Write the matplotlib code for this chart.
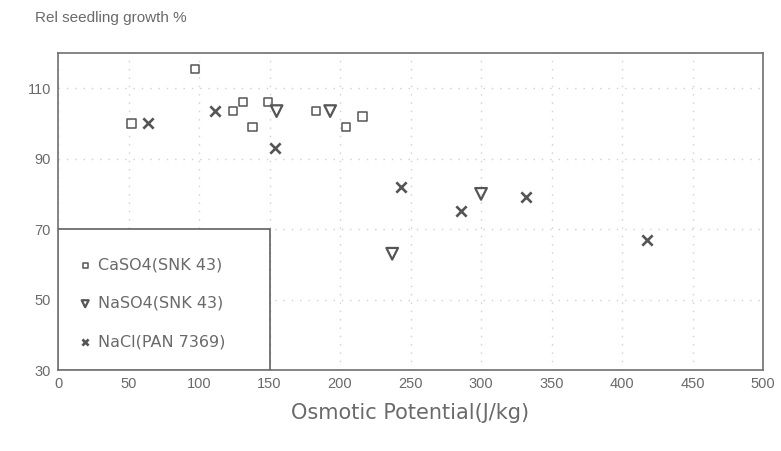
import matplotlib.pyplot as plt
from matplotlib.patches import Rectangle

plt.rcParams['font.family'] = ['Liberation Sans', 'DejaVu Sans']

# CaSO4 (SNK 43)
caso4_x = [52, 97, 124, 131, 138, 149, 183, 204, 216]
caso4_y = [100, 115.5, 103.5, 106, 99, 106, 103.5, 99, 102]
# NaSO4 (SNK 43)
naso4_x = [155, 193, 237, 300]
naso4_y = [103.5, 103.5, 63, 80]
# NaCl (PAN 7369)
nacl_x = [64, 111, 154, 243, 286, 332, 418]
nacl_y = [100, 103.5, 93, 82, 75, 79, 67]

xticks = [0, 50, 100, 150, 200, 250, 300, 350, 400, 450, 500]
yticks = [30, 50, 70, 90, 110]

grey = '#555555'
txt = '#6a6a6a'

fig = plt.figure(figsize=(7.81, 4.51), dpi=100)
ax = fig.add_axes([0.0743, 0.1796, 0.9027, 0.7029])

ax.scatter(caso4_x, caso4_y, marker='s', s=36, facecolors='none',
           edgecolors=grey, linewidths=1.1, label='CaSO4(SNK 43)', zorder=3)
ax.scatter(naso4_x, naso4_y, marker='v', s=70, facecolors='none',
           edgecolors=grey, linewidths=1.6, label='NaSO4(SNK 43)', zorder=3)
ax.scatter(nacl_x, nacl_y, marker='x', s=55, color=grey,
           linewidths=1.9, label='NaCl(PAN 7369)', zorder=3)

ax.set_xlim(0, 500)
ax.set_ylim(30, 120)
ax.set_xticks(xticks)
ax.set_yticks(yticks)
ax.tick_params(length=0, labelsize=10.5, labelcolor=txt, pad=5)
ax.grid(True, linestyle=(0, (1, 5)), color='#d0d0d0', linewidth=1.0)
for s in ax.spines.values():
    s.set_color('#707070')
    s.set_linewidth(1.2)

# legend box
ax.add_patch(Rectangle((0, 30), 150, 40, fill=True, facecolor='white',
                       edgecolor='#606060', linewidth=1.2, zorder=4))
leg = ax.legend(loc='center left', bbox_to_anchor=(0.0, -0.012, 0.3, 0.444),
                frameon=False, labelcolor=txt, handletextpad=0.3,
                handlelength=1.0, labelspacing=1.45, borderaxespad=0.8,
                markerscale=0.6,
                prop={'family': 'DejaVu Sans', 'size': 11.5})
leg.set_zorder(5)

ax.set_xlabel('Osmotic Potential(J/kg)', fontsize=15, color=txt, labelpad=9,
              family='DejaVu Sans')
fig.text(0.045, 0.96, 'Rel seedling growth %', fontsize=11, color=txt,
         ha='left', va='center')

fig.savefig('out.png', dpi=100, facecolor='white')
